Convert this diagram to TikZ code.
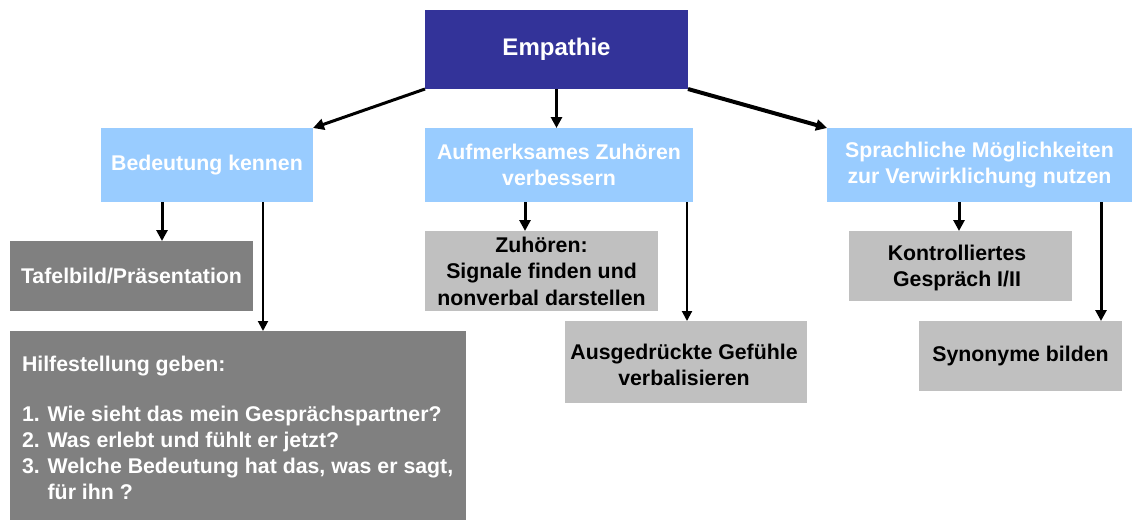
\documentclass[tikz,border=0pt]{standalone}
\usepackage{fontspec}
\setmainfont{Liberation Sans}
\usetikzlibrary{arrows.meta}
\definecolor{empblue}{HTML}{333399}
\definecolor{lblue}{HTML}{99CCFF}
\definecolor{dgray}{HTML}{808080}
\definecolor{lgray}{HTML}{C0C0C0}
\begin{document}
\begin{tikzpicture}[x=1pt,y=-1pt,
  box/.style={inner sep=0pt,outer sep=0pt,align=center,font=\fontsize{21.3}{25.5}\selectfont\bfseries},
  topbox/.style={box,fill=empblue,text=white,font=\fontsize{24}{28}\selectfont\bfseries},
  bluebox/.style={box,fill=lblue,text=white},
  darkbox/.style={box,fill=dgray,text=white},
  lightbox/.style={box,fill=lgray,text=black,font=\fontsize{21.3}{26.5}\selectfont\bfseries},
  boxtext/.style={inner sep=0pt,outer sep=0pt,align=center},
  arr/.style={line width=3pt,-{Triangle[length=11pt,width=11pt]}},
  thinarr/.style={line width=2pt,-{Triangle[length=10pt,width=10pt]}}
]
\useasboundingbox (0,0) rectangle (1134,520);
\node[topbox,minimum width=263pt,minimum height=79pt] (emp) at (556.5,49.5) {Empathie};
\node[bluebox,minimum width=212pt,minimum height=74pt] (bed) at (207,165) {Bedeutung kennen};
\node[bluebox,minimum width=268pt,minimum height=74pt] (auf) at (559,165) {Aufmerksames Zuhören\\verbessern};
\node[bluebox,minimum width=305pt,minimum height=74pt] (spr) at (979.5,165) {Sprachliche Möglichkeiten\\zur Verwirklichung nutzen};
\node[darkbox,minimum width=243pt,minimum height=70pt] (taf) at (131.5,276) {Tafelbild/Präsentation};
\node[darkbox,minimum width=456pt,minimum height=189pt] (hil) at (238,425.5) {};
\node[inner sep=0pt,outer sep=0pt,text=white,anchor=north west,align=left,font=\fontsize{21.3}{26}\selectfont\bfseries] (hiltext) at (22,356) {Hilfestellung geben:\\\mbox{}\\[-2pt]
1. Wie sieht das mein Gesprächspartner?\\
2. Was erlebt und fühlt er jetzt?\\
3. Welche Bedeutung hat das, was er sagt,\\
\hphantom{3. }für ihn ?};
\node[lightbox,minimum width=233pt,minimum height=80pt] (zuh) at (541.5,271) {Zuhören:\\Signale finden und\\nonverbal darstellen};
\node[lightbox,minimum width=242pt,minimum height=82pt] (aus) at (686,362) {};
\node[boxtext,font=\fontsize{21.3}{26.5}\selectfont\bfseries] at (684,365) {Ausgedrückte Gefühle\\verbalisieren};
\node[lightbox,minimum width=223pt,minimum height=70pt] (kon) at (960.5,266) {};
\node[boxtext,font=\fontsize{21.3}{26.5}\selectfont\bfseries] at (957,268) {Kontrolliertes\\Gespräch I/II};
\node[lightbox,minimum width=203pt,minimum height=70pt] (syn) at (1020.5,356) {Synonyme bilden};
\coordinate (xa) at (162,0);
\coordinate (xb) at (263,0);
\coordinate (xc) at (525,0);
\coordinate (xd) at (687,0);
\coordinate (xe) at (959,0);
\coordinate (xf) at (1101,0);
\draw[arr] (emp.south west) -- (bed.north east);
\draw[arr] (emp.south) -- (auf.north -| emp.south);
\draw[arr,line width=4pt] (emp.south east) -- (spr.north west);
\draw[arr] (bed.south -| xa) -- (taf.north -| xa);
\draw[thinarr] (bed.south -| xb) -- (hil.north -| xb);
\draw[arr] (auf.south -| xc) -- (zuh.north -| xc);
\draw[thinarr] (auf.south -| xd) -- (aus.north -| xd);
\draw[arr] (spr.south -| xe) -- (kon.north -| xe);
\draw[arr] (spr.south -| xf) -- (syn.north -| xf);
\end{tikzpicture}
\end{document}
